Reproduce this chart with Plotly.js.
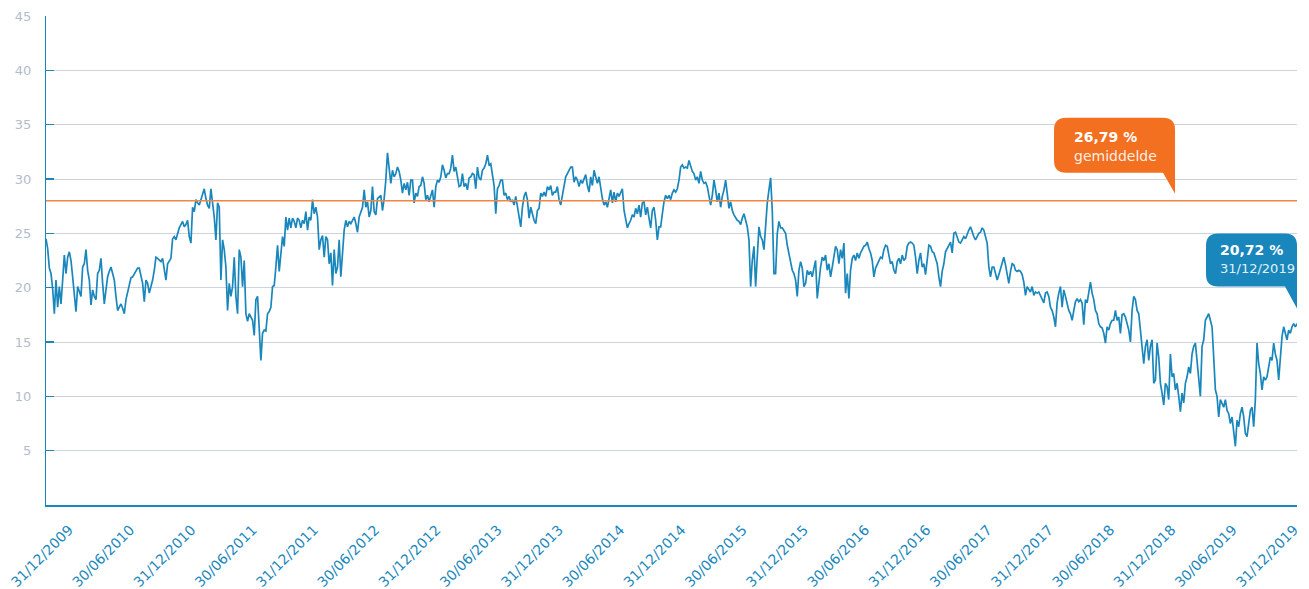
<!DOCTYPE html>
<html>
<head>
<meta charset="utf-8">
<script src="https://cdn.plot.ly/plotly-3.0.1.min.js"></script>
<style>
  html, body { margin: 0; padding: 0; background: #ffffff; }
  #chart { width: 1309px; height: 589px; }
</style>
</head>
<body>
<div id="chart"></div>
<script>
// ---- Data (volatility in %) ----
const startDate = '2009-12-31';
const endDate = '2019-12-31';

const vol2010_2011 = [24.5,23.6,21.8,21.3,19.9,17.6,20.7,18.2,20.1,18.5,20.7,23.0,21.3,22.8,23.3,22.5,21.0,19.2,17.8,20.1,19.6,19.2,21.9,22.2,23.5,21.6,20.7,18.4,19.8,19.2,18.9,21.3,21.6,22.7,20.4,18.5,19.8,21.0,21.5,21.9,21.3,20.7,19.2,17.9,18.2,18.5,18.1,17.6,18.9,19.6,20.4,20.9,21.0,21.3,21.5,21.8,21.8,21.0,20.4,18.7,20.7,20.4,19.5,20.1,20.7,21.6,22.8,22.7,22.5,22.4,22.7,21.6,20.7,22.2,22.5,22.7,24.5,24.7,24.4,25.0,25.5,25.8,26.1,25.6,25.8,26.2,24.7,24.1,27.4,27.0,28.1,27.8,27.6,28.1,28.7,29.1,28.2,27.6,27.3,29.1,27.8,26.5,24.4,27.8,27.4,20.7,24.4,23.5,21.9,17.9,20.4,19.2,20.1,22.8,19.2,17.6,23.5,22.8,20.1,22.5,17.6,16.9,17.6,17.3,17.0,15.6,18.9,19.2];

const vol2011_2013 = [16.4,13.3,15.8,16.1,16.0,17.6,17.8,18.2,20.1,20.2,21.9,23.9,21.5,23.5,24.7,23.8,26.5,25.3,26.4,25.5,26.4,26.1,25.5,26.4,26.2,25.5,26.2,25.9,27.0,25.3,26.5,26.2,28.1,26.8,27.4,26.5,23.5,24.4,24.8,22.8,24.7,24.4,22.2,23.2,20.2,23.5,21.3,21.9,24.4,21.0,23.5,25.3,26.2,25.6,26.1,25.9,26.2,26.5,25.9,25.1,26.5,27.0,27.4,29.0,27.4,27.9,26.5,27.1,29.3,27.0,26.7,28.2,28.4,28.5,27.1,28.2,29.9,32.4,31.0,29.6,30.8,30.2,30.5,31.1,30.7,29.9,28.7,29.6,29.0,29.7,28.5,29.9,29.9,27.8,28.7,28.4,29.3,29.4,30.2,29.6,28.1,28.5,27.9,28.4,29.0,27.4,29.3,29.9,29.7,30.2,31.3,30.8,30.1,30.5,30.5,31.0,32.2,30.7,31.1,30.2,29.3,29.4,30.5,29.3,29.6,29.0,30.1];

const vol2013_2015 = [30.2,30.5,30.4,29.1,31.1,30.1,29.9,30.8,31.0,31.4,32.2,31.3,31.4,30.5,29.4,26.8,29.1,29.4,29.9,29.9,28.5,28.7,28.1,28.4,27.9,28.1,27.6,28.4,27.4,26.5,25.6,27.4,28.4,28.8,28.1,26.4,27.4,26.8,26.2,25.9,27.1,27.3,28.7,28.4,28.8,28.4,29.3,29.0,29.4,28.5,28.8,28.8,29.3,28.1,27.6,28.5,29.6,30.2,30.5,30.8,31.1,31.1,29.7,30.2,29.9,29.3,29.9,29.6,30.1,30.4,29.4,28.8,30.2,29.4,30.8,30.2,29.6,30.2,29.1,28.2,27.6,27.9,27.4,28.4,29.0,27.8,28.8,27.9,28.7,28.4,28.8,29.1,27.1,26.2,25.5,25.9,26.2,26.7,26.5,27.3,26.8,27.6,26.5,27.8,27.9,26.7,27.4,26.4,25.5,27.1,27.4,26.2,24.4,25.6,25.6,26.8,27.9,28.5,28.2,28.5,28.1,28.7,29.0,28.8,29.1,29.9];

const vol2015_2016 = [31.1,31.3,31.0,31.1,31.0,31.7,31.1,30.7,30.5,29.9,30.2,29.6,30.7,29.9,29.6,29.7,29.3,28.4,27.6,28.5,29.9,29.0,27.9,28.7,27.4,28.4,29.0,29.9,28.7,27.3,27.9,27.1,26.7,26.4,26.2,26.1,25.8,26.4,26.8,26.2,25.6,24.4,20.1,22.5,23.8,20.1,23.5,25.6,24.7,24.4,23.5,25.9,27.8,29.0,30.1,27.1,21.3,21.3,25.0,26.1,25.5,25.5,25.3,25.0,23.9,23.2,22.2,21.6,21.3,20.7,19.2,21.6,22.4,21.8,20.1,20.4,21.6,21.2,21.5,21.0,21.8,22.5,19.0,20.7,21.9,22.8,22.5,23.0,21.6,22.2,21.0,21.9,22.8,23.8,23.5,22.2,23.5,22.7,24.1,19.5,21.3,19.0,21.6,22.7,23.0,22.5,23.2,22.7,23.2,23.5,23.8,23.9,24.2,23.6,23.2,22.5,21.0,21.8,22.1,22.4,22.8,22.7,23.5,23.9,23.8,23.0];

const vol2016_2018 = [22.2,22.4,21.6,21.3,22.4,22.7,22.2,23.0,22.5,22.7,23.8,24.1,24.2,24.1,23.9,22.8,21.3,22.5,23.2,21.9,22.2,21.2,22.7,23.9,23.8,23.3,23.2,22.7,22.2,21.0,20.1,21.5,22.2,23.3,23.6,23.9,24.2,23.2,25.0,25.1,24.7,24.2,24.1,24.4,24.7,24.5,25.0,25.3,25.6,25.1,24.7,24.4,24.7,25.0,25.1,25.5,25.3,24.7,24.1,21.9,21.0,21.9,21.9,21.3,20.7,21.2,21.8,22.4,22.8,22.1,21.3,20.4,21.5,22.2,22.1,21.6,21.5,21.6,21.5,21.2,20.5,19.3,20.1,19.8,19.6,20.1,19.3,19.6,19.5,19.6,19.3,18.9,18.6,19.5,19.6,19.2,18.2,17.9,17.3,16.4,18.6,19.5,20.1,18.2,19.8,19.2,18.6,17.9,17.6,17.0,17.9,18.7,19.0,18.7,18.9,18.6,16.6,18.9,18.6,19.8,20.5,19.5,18.9,17.9,17.6,16.7];

const vol2018_2019 = [16.4,16.3,15.8,14.9,16.4,16.1,16.7,17.0,17.0,17.9,17.0,17.3,15.8,17.5,17.6,17.3,16.7,16.1,15.0,17.9,19.2,18.9,17.9,17.6,16.1,14.3,13.0,14.6,15.2,13.3,14.6,15.2,11.2,11.5,14.9,13.6,11.2,10.3,9.2,11.2,10.9,9.7,13.9,11.8,12.1,10.6,11.2,10.0,8.6,10.3,9.4,11.2,11.8,12.7,12.1,13.9,14.6,14.9,13.3,11.2,10.0,14.6,15.2,17.0,17.3,17.6,17.0,16.4,13.6,10.6,10.0,8.1,9.7,9.4,9.0,9.7,8.7,8.4,7.5,8.1,6.6,5.4,7.8,7.2,8.4,9.0,8.1,6.6,6.3,7.5,8.7,9.0,7.2,9.7,14.9,13.0,12.1,10.6,11.8,11.5,11.8,12.7,13.6,13.3,14.9,13.9,13.3,11.5,13.9,15.5,16.4,15.8,15.2,16.1,15.8,16.4,16.7,16.4,16.7];

const averageLevel = 28;            // orange reference line as drawn
const averageText = '26,79 %';
const averageCaption = 'gemiddelde';
const lastText = '20,72 %';
const lastCaption = '31/12/2019';

const tickLabels = ['31/12/2009','30/06/2010','31/12/2010','30/06/2011','31/12/2011','30/06/2012','31/12/2012','30/06/2013','31/12/2013','30/06/2014','31/12/2014','30/06/2015','31/12/2015','30/06/2016','31/12/2016','30/06/2017','31/12/2017','30/06/2018','31/12/2018','30/06/2019','31/12/2019'];
const yTicks = [5,10,15,20,25,30,35,40,45];

// ---- Build series ----
const values = [].concat(vol2010_2011, vol2011_2013, vol2013_2015, vol2015_2016, vol2016_2018, vol2018_2019);
const t0 = Date.parse(startDate + 'T00:00:00Z');
const t1 = Date.parse(endDate + 'T00:00:00Z');
const dates = values.map((v, i) => new Date(t0 + (t1 - t0) * i / (values.length - 1)).toISOString().slice(0, 19));
const lastValue = values[values.length - 1];
const labelIndex = tickLabels.map((s, i) => i);

const BLUE = '#1a87bc';
const ORANGE = '#f37021';
const FONT = 'DejaVu Sans, Verdana, sans-serif';

function callout(w, top, bottom, tipY, tailW, r) {
  // path in pixels relative to the anchor, y pointing up; tail tip at (0, tipY)
  return 'M0,' + tipY + ' L' + (-tailW) + ',' + bottom +
    ' L' + (-w + r) + ',' + bottom +
    ' Q' + (-w) + ',' + bottom + ' ' + (-w) + ',' + (bottom + r) +
    ' L' + (-w) + ',' + (top - r) +
    ' Q' + (-w) + ',' + top + ' ' + (-w + r) + ',' + top +
    ' L' + (-r) + ',' + top +
    ' Q0,' + top + ' 0,' + (top - r) + ' Z';
}

const trace = {
  type: 'scatter',
  mode: 'lines',
  x: dates,
  y: values,
  line: { color: BLUE, width: 1.7 },
  hoverinfo: 'x+y'
};

// carrier for the evenly spaced half-year labels
const labelTrace = {
  type: 'scatter', mode: 'markers', xaxis: 'x2', yaxis: 'y',
  x: [labelIndex[0], labelIndex[labelIndex.length - 1]], y: [null, null],
  hoverinfo: 'skip', showlegend: false
};

const orangeTipX = 0.9025;

const layout = {
  width: 1309,
  height: 589,
  margin: { l: 46, r: 12, t: 16, b: 84 },
  paper_bgcolor: '#ffffff',
  plot_bgcolor: '#ffffff',
  showlegend: false,
  font: { family: FONT, size: 13, color: '#b3bccc' },
  xaxis: {
    type: 'date',
    range: [startDate, endDate],
    showgrid: false,
    zeroline: false,
    showline: true,
    linecolor: BLUE,
    linewidth: 2,
    showticklabels: false,
    ticks: ''
  },
  xaxis2: {
    overlaying: 'x',
    anchor: 'y',
    side: 'bottom',
    range: [-0.3755, 20.049],
    showgrid: false,
    zeroline: false,
    showline: false,
    tickmode: 'array',
    tickvals: labelIndex,
    ticktext: tickLabels,
    tickangle: -45,
    ticks: '',
    ticklabelstandoff: 13,
    tickfont: { family: FONT, size: 14, color: BLUE }
  },
  yaxis: {
    range: [0, 45],
    tickmode: 'array',
    tickvals: yTicks,
    ticktext: yTicks.map(String),
    showgrid: true,
    gridcolor: '#cdd3df',
    gridwidth: 1,
    zeroline: false,
    showline: true,
    linecolor: BLUE,
    linewidth: 1,
    ticks: 'inside',
    ticklen: 8,
    tickwidth: 1.5,
    tickcolor: BLUE,
    ticklabelstandoff: 11,
    tickfont: { family: FONT, size: 13, color: '#b3bccc' }
  },
  shapes: [
    {
      type: 'line', xref: 'paper', yref: 'y',
      x0: 0, x1: 1, y0: averageLevel, y1: averageLevel,
      line: { color: '#f28445', width: 1.5 }, layer: 'above'
    },
    {
      type: 'path', xref: 'paper', yref: 'y',
      xsizemode: 'pixel', ysizemode: 'pixel',
      xanchor: orangeTipX, yanchor: averageLevel,
      path: callout(121, 83, 28, 7, 12, 12),
      fillcolor: ORANGE, line: { width: 0 }, layer: 'above'
    },
    {
      type: 'path', xref: 'paper', yref: 'y',
      xsizemode: 'pixel', ysizemode: 'pixel',
      xanchor: 1, yanchor: lastValue,
      path: callout(91, 90, 37, 15, 12, 12),
      fillcolor: BLUE, line: { width: 0 }, layer: 'above'
    }
  ],
  annotations: [
    {
      xref: 'paper', yref: 'y', x: orangeTipX, y: averageLevel,
      xanchor: 'left', yanchor: 'middle', xshift: -103, yshift: 64,
      text: '<b>' + averageText + '</b>', showarrow: false,
      font: { family: FONT, size: 14, color: '#ffffff' }
    },
    {
      xref: 'paper', yref: 'y', x: orangeTipX, y: averageLevel,
      xanchor: 'left', yanchor: 'middle', xshift: -103, yshift: 45,
      text: averageCaption, showarrow: false,
      font: { family: FONT, size: 14, color: 'rgba(255,255,255,0.9)' }
    },
    {
      xref: 'paper', yref: 'y', x: 1, y: lastValue,
      xanchor: 'left', yanchor: 'middle', xshift: -79, yshift: 74,
      text: '<b>' + lastText + '</b>', showarrow: false,
      font: { family: FONT, size: 14, color: '#ffffff' }
    },
    {
      xref: 'paper', yref: 'y', x: 1, y: lastValue,
      xanchor: 'left', yanchor: 'middle', xshift: -79, yshift: 55,
      text: lastCaption, showarrow: false,
      font: { family: FONT, size: 13, color: 'rgba(255,255,255,0.9)' }
    }
  ]
};

Plotly.newPlot('chart', [trace, labelTrace], layout, { displayModeBar: false, staticPlot: true });
</script>
</body>
</html>
